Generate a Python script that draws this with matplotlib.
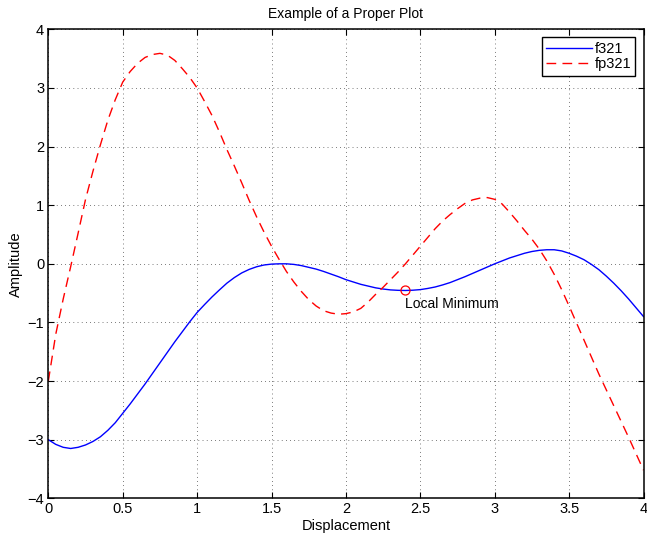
import matplotlib
matplotlib.use('Agg')
import matplotlib.pyplot as plt
import numpy as np

plt.rcParams['font.family'] = ['Liberation Sans', 'DejaVu Sans']
plt.rcParams['font.size'] = 10.5

### Data (x step 0.05 from 0 to 4) ###
x = np.linspace(0, 4, 81)

f321 = [-3.00, -3.08, -3.13, -3.15, -3.13, -3.09, -3.03, -2.95, -2.84, -2.71,
        -2.55, -2.39, -2.22, -2.05, -1.87, -1.69, -1.51, -1.33, -1.16, -0.99,
        -0.83, -0.695, -0.565, -0.445, -0.33, -0.235, -0.155, -0.095, -0.05, -0.02,
        -0.005, 0.00, 0.00, -0.01, -0.03, -0.06, -0.09, -0.13, -0.175, -0.22,
        -0.27, -0.31, -0.35, -0.38, -0.41, -0.43, -0.445, -0.452, -0.455, -0.45,
        -0.44, -0.42, -0.395, -0.36, -0.32, -0.27, -0.22, -0.165, -0.11, -0.055,
        0.00, 0.05, 0.10, 0.14, 0.18, 0.21, 0.23, 0.24, 0.24, 0.22,
        0.18, 0.13, 0.07, -0.01, -0.10, -0.21, -0.33, -0.46, -0.60, -0.75,
        -0.90]

fp321 = [-2.00, -1.20, -0.60, -0.05, 0.52, 1.10, 1.58, 2.03, 2.45, 2.80,
         3.10, 3.28, 3.42, 3.52, 3.57, 3.59, 3.56, 3.47, 3.33, 3.18,
         3.00, 2.77, 2.53, 2.25, 1.95, 1.67, 1.38, 1.08, 0.80, 0.54,
         0.30, 0.08, -0.13, -0.31, -0.47, -0.61, -0.72, -0.80, -0.84, -0.86,
         -0.85, -0.82, -0.76, -0.65, -0.52, -0.40, -0.27, -0.14, 0.00, 0.15,
         0.30, 0.45, 0.60, 0.73, 0.84, 0.94, 1.03, 1.09, 1.12, 1.13,
         1.10, 1.02, 0.88, 0.73, 0.57, 0.42, 0.25, 0.05, -0.18, -0.44,
         -0.72, -1.01, -1.30, -1.59, -1.88, -2.15, -2.42, -2.69, -2.96, -3.24,
         -3.52]

min_x, min_y = 2.4, -0.455

xticks = [0, 0.5, 1, 1.5, 2, 2.5, 3, 3.5, 4]
xticklabels = ['0', '0.5', '1', '1.5', '2', '2.5', '3', '3.5', '4']
yticks = [-4, -3, -2, -1, 0, 1, 2, 3, 4]
yticklabels = ['\u22124', '\u22123', '\u22122', '\u22121', '0', '1', '2', '3', '4']

### Figure ###
fig = plt.figure(figsize=(6.47, 5.36), dpi=100)
ax = fig.add_axes([0.0747, 0.0703, 0.9199, 0.875])

ax.plot(x, f321, color='#0000ff', linewidth=1.0, label='f321')
ax.plot(x, fp321, color='#ff0000', linewidth=1.0, linestyle='--',
        dashes=(7, 4.5), label='fp321')
ax.plot(min_x, min_y, marker='o', markersize=6.5, markerfacecolor='none',
        markeredgecolor='#ff0000', markeredgewidth=0.9, linestyle='none')
ax.text(min_x, -0.69, 'Local Minimum', ha='left', va='center', fontsize=10)

ax.set_xlim(0, 4)
ax.set_ylim(-4, 4)
ax.set_xticks(xticks)
ax.set_xticklabels(xticklabels)
ax.set_yticks(yticks)
ax.set_yticklabels(yticklabels)
ax.tick_params(direction='in', length=4, width=0.8, top=True, right=True,
               pad=3)
ax.grid(True, color='black', linestyle=(0, (1, 5)), linewidth=0.5)
for s in ax.spines.values():
    s.set_linewidth(1.1)

ax.set_title('Example of a Proper Plot', fontsize=10, pad=8.5)
ax.set_xlabel('Displacement', labelpad=2)
ax.set_ylabel('Amplitude', labelpad=3.5)

leg = ax.legend(loc='upper right', fancybox=False, framealpha=1,
                edgecolor='black', borderaxespad=0.55, handlelength=3.1,
                handletextpad=0.2, borderpad=0.3, labelspacing=0.1)
leg.get_frame().set_linewidth(1.0)

plt.savefig('out.png', dpi=100)
